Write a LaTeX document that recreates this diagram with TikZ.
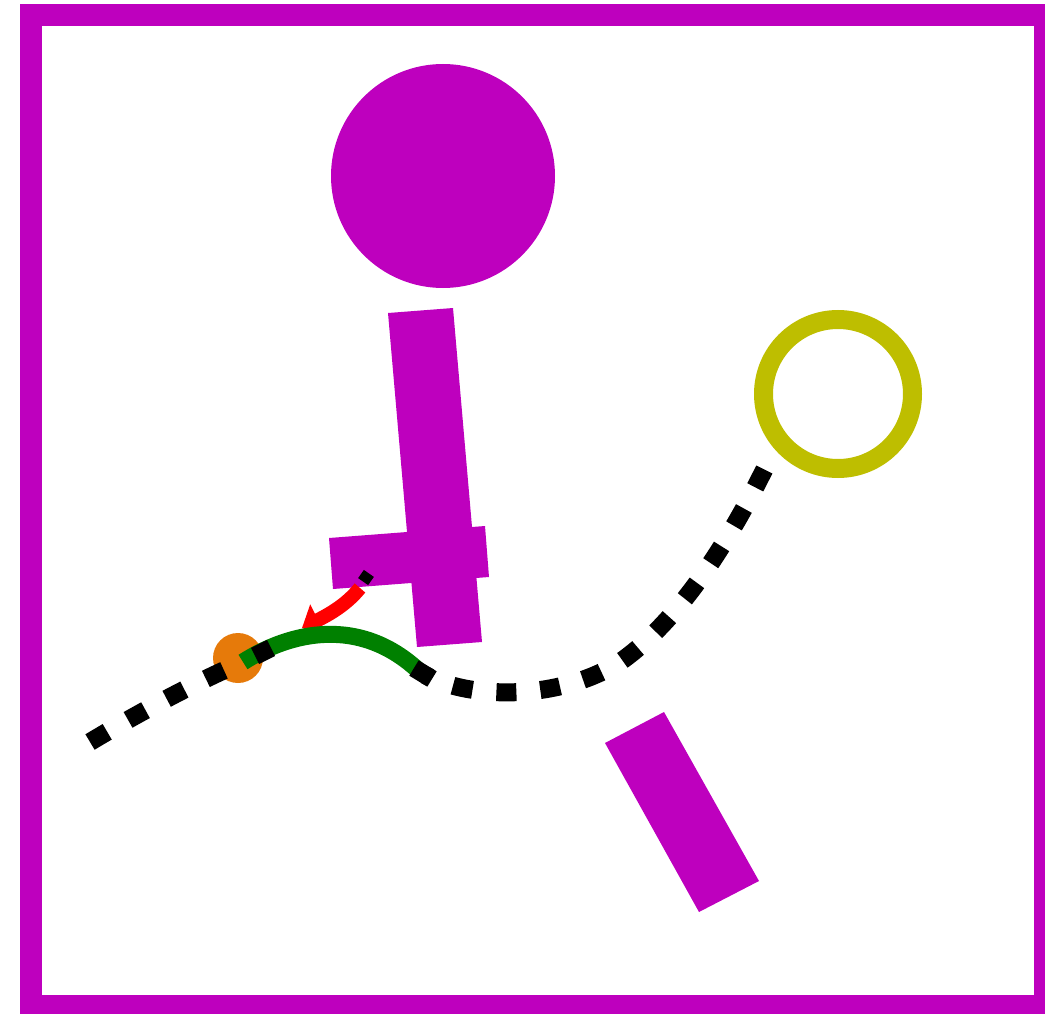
\documentclass[tikz,border=0pt]{standalone}
\usepackage{tikz}
\usetikzlibrary{arrows.meta}
\definecolor{purplebar}{RGB}{190,0,190}
\definecolor{olivering}{RGB}{190,190,0}
\definecolor{orangedot}{RGB}{230,122,10}
\definecolor{leafgreen}{RGB}{0,128,0}

\begin{document}
\begin{tikzpicture}[x=1pt, y=-1pt,
  slab/.style={fill=purplebar, draw=none},
  dotted trail/.style={draw=black, line width=18pt, dash pattern=on 20pt off 24pt},
  green trail/.style={draw=leafgreen, line width=17pt},
  red trail/.style={draw=red, line width=14pt, -{Triangle[length=18pt, width=34pt]}}
]
\useasboundingbox (0,0) rectangle (1045,1014);

% Frame
\draw[purplebar, line width=22pt] (31,15) rectangle (1045,1006);

% Head and body
\fill[slab] (443,176) circle (112);
\fill[slab] (388,313) -- (453,308) -- (482,642) -- (417,647) -- cycle;
\fill[slab] (329,538) -- (485,526) -- (489,577) -- (333,589) -- cycle;
\fill[slab] (605,743) -- (664,712) -- (759,881) -- (699,912) -- cycle;

% Ring
\draw[olivering, line width=19pt] (838,394) circle (74.5);

% Orange dot
\fill[orangedot] (238,658) circle (25);

% Dotted trail
\draw[dotted trail] (90,742) .. controls (140,712) and (200,680) .. (243,662);
\draw[dotted trail, dash phase=14pt] (425,675)
  .. controls (472,700) and (560,700) .. (620,662)
  .. controls (680,620) and (730,540) .. (768,462);
\draw[black, line width=10pt] (361,574) -- (371,581);

% Red arrow
\draw[red trail] (360,588) .. controls (350,600) and (338,610) .. (302,628);

% Green trail
\draw[green trail] (243,662) .. controls (290,632) and (360,615) .. (420,672);
\draw[black, line width=18pt] (255,656) -- (271,648);
\draw[black, line width=18pt] (414,668) -- (432,679);

\end{tikzpicture}
\end{document}
